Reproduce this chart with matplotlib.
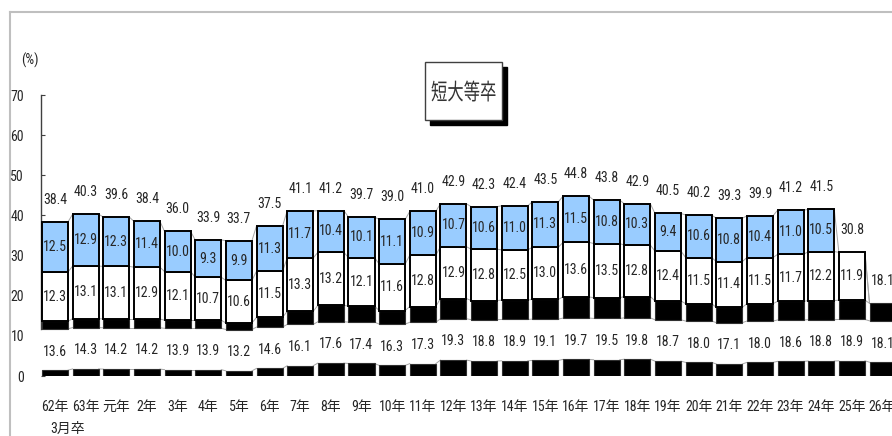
import matplotlib
matplotlib.use("Agg")
import matplotlib.pyplot as plt
from matplotlib import font_manager
from matplotlib.font_manager import FontProperties
from matplotlib.patches import Rectangle, PathPatch
from matplotlib.lines import Line2D
from matplotlib.textpath import TextPath
from matplotlib.transforms import Affine2D, IdentityTransform
import numpy as np

# ---- data -------------------------------------------------------------
years = ["62年", "63年", "元年", "2年", "3年", "4年", "5年", "6年", "7年", "8年",
         "9年", "10年", "11年", "12年", "13年", "14年", "15年", "16年", "17年",
         "18年", "19年", "20年", "21年", "22年", "23年", "24年", "25年", "26年"]
first_year = [13.6, 14.3, 14.2, 14.2, 13.9, 13.9, 13.2, 14.6, 16.1, 17.6,
              17.4, 16.3, 17.3, 19.3, 18.8, 18.9, 19.1, 19.7, 19.5,
              19.8, 18.7, 18.0, 17.1, 18.0, 18.6, 18.8, 18.9, 18.1]
second_year = [12.3, 13.1, 13.1, 12.9, 12.1, 10.7, 10.6, 11.5, 13.3, 13.2,
               12.1, 11.6, 12.8, 12.9, 12.8, 12.5, 13.0, 13.6, 13.5,
               12.8, 12.4, 11.5, 11.4, 11.5, 11.7, 12.2, 11.9, None]
third_year = [12.5, 12.9, 12.3, 11.4, 10.0, 9.3, 9.9, 11.3, 11.7, 10.4,
              10.1, 11.1, 10.9, 10.7, 10.6, 11.0, 11.3, 11.5, 10.8,
              10.3, 9.4, 10.6, 10.8, 10.4, 11.0, 10.5, None, None]
totals = [38.4, 40.3, 39.6, 38.4, 36.0, 33.9, 33.7, 37.5, 41.1, 41.2,
          39.7, 39.0, 41.0, 42.9, 42.3, 42.4, 43.5, 44.8, 43.8,
          42.9, 40.5, 40.2, 39.3, 39.9, 41.2, 41.5, 30.8, 18.1]
y_ticks = [0, 10, 20, 30, 40, 50, 60, 70]
title = "短大等卒"

# ---- fonts: prefer a narrow Latin face, CJK from Noto -----------------
def narrow_face():
    entries = font_manager.fontManager.ttflist
    wanted = ["Liberation Sans Narrow", "Roboto Condensed", "Open Sans Condensed",
              "DejaVu Sans Condensed", "Noto Sans Condensed"]
    for name in wanted:
        for f in entries:
            if f.name == name and f.style == "normal" and f.weight in (400, "normal", "regular"):
                return f.name, "normal"
    for f in entries:
        if (f.stretch in ("condensed", "semi-condensed")
                and f.style == "normal" and f.weight in (400, "normal", "regular")
                and f.name in ("DejaVu Sans", "Noto Sans", "Roboto", "Open Sans",
                               "Liberation Sans", "Lato", "Inter")):
            return f.name, f.stretch
    return "Liberation Sans", "normal"

num_family, num_stretch = narrow_face()
plt.rcParams["font.family"] = [num_family, "Noto Sans CJK JP", "DejaVu Sans"]
plt.rcParams["font.stretch"] = num_stretch

TXT = "#262626"
BLUE = "#99CCFF"
FS = 10 if num_stretch != "normal" or "Narrow" in num_family or "Condensed" in num_family else 9.5

# ---- geometry (pixels) -------------------------------------------------
W, H = 892, 436
fig = plt.figure(figsize=(W / 100, H / 100), dpi=100)
axis_x = 40.7
zero_y, top_y = 376, 95
pitch, first_center = 30.65, 55.0
ax = fig.add_axes([axis_x / W, (H - zero_y) / H, 1 - axis_x / W, (zero_y - top_y) / H])
ax.set_xlim(-(first_center - axis_x) / pitch, (W - first_center) / pitch)
ax.set_ylim(0, 70)

n = len(years)
x = np.arange(n)
width = 0.85

v1 = np.array(first_year, dtype=float)
v2 = np.array([np.nan if v is None else v for v in second_year])
v3 = np.array([np.nan if v is None else v for v in third_year])
v2z = np.nan_to_num(v2)
v3z = np.nan_to_num(v3)

# the first-year bar is drawn with a broken middle: a black foot, a blank
# band carrying the value, and a black cap up to the true value
GAP = 10.3
LOWER_SHARE = 0.44
foot = LOWER_SHARE * (v1 - GAP)
cap_start = foot + GAP

ax.bar(x, foot, width, color="black", edgecolor="#303030", lw=0.8, zorder=3)
ax.bar(x, v1 - cap_start, width, bottom=cap_start, color="black",
       edgecolor="#303030", lw=0.8, zorder=3)

m2 = ~np.isnan(v2)
ax.bar(x[m2], v2[m2], width, bottom=v1[m2], color="white",
       edgecolor="black", lw=1.4, zorder=3)
m3 = ~np.isnan(v3)
ax.bar(x[m3], v3[m3], width, bottom=(v1 + v2z)[m3], color=BLUE,
       edgecolor="black", lw=1.4, zorder=3)

# series lines between neighbouring bars
levels = np.vstack([foot, cap_start, v1, v1 + v2z, v1 + v2z + v3z])
for i in range(n - 1):
    for lv in levels:
        ax.plot([x[i] + width / 2, x[i + 1] - width / 2], [lv[i], lv[i + 1]],
                color="#A6A6A6", lw=0.7, zorder=2)

# value labels
for i in range(n):
    ax.text(x[i], (foot[i] + cap_start[i]) / 2 - 0.5, f"{v1[i]:.1f}",
            ha="center", va="center", fontsize=FS, color=TXT, zorder=4)
    if m2[i]:
        ax.text(x[i], v1[i] + v2[i] / 2, f"{v2[i]:.1f}", ha="center",
                va="center", fontsize=FS, color=TXT, zorder=4)
    if m3[i]:
        ax.text(x[i], v1[i] + v2z[i] + v3[i] / 2, f"{v3[i]:.1f}", ha="center",
                va="center", fontsize=FS, color=TXT, zorder=4)
    top = v1[i] + v2z[i] + v3z[i]
    ax.text(x[i], top + 5.5, f"{totals[i]:.1f}", ha="center", va="center",
            fontsize=FS, color=TXT, zorder=4, clip_on=False)

# axes styling
for s in ("top", "right", "bottom"):
    ax.spines[s].set_visible(False)
ax.spines["left"].set_color("#404040")
ax.spines["left"].set_linewidth(1.0)
ax.spines["left"].set_bounds(cap_start[0], 70)
ax.set_yticks(y_ticks)
ax.set_yticklabels([str(t) for t in y_ticks])
ax.tick_params(axis="y", direction="in", length=3, width=0.8, color="#404040",
               pad=12, labelsize=FS, labelcolor=TXT)
for t in ax.yaxis.get_major_ticks():
    if foot[0] < t.get_loc() < cap_start[0]:
        t.tick1line.set_visible(False)
ax.set_xticks(x)
ax.set_xticklabels(years)
ax.tick_params(axis="x", length=0, pad=17, labelsize=FS, labelcolor=TXT)
ax.annotate("3月卒", xy=(0, 0), xycoords="data", xytext=(9, -38),
            textcoords="offset points", ha="center", va="center",
            fontsize=FS, color=TXT, annotation_clip=False)
ax.patch.set_visible(False)

# unit label
fig.text(30 / W, (H - 60) / H, "(%)", ha="center", va="center",
         fontsize=FS, color=TXT)

# outer frame
fig.add_artist(Line2D([10 / W, 1], [(H - 12) / H] * 2, color="#BFBFBF", lw=1.5))
fig.add_artist(Line2D([10 / W] * 2, [0, (H - 12) / H], color="#BFBFBF", lw=1.5))

# title box with drop shadow
bx, by, bw, bh = 425, 62, 77, 58
fig.add_artist(Rectangle(((bx + 5) / W, (H - by - bh - 5) / H), bw / W, bh / H,
                         transform=fig.transFigure, facecolor="black",
                         edgecolor="black", lw=1))
fig.add_artist(Rectangle((bx / W, (H - by - bh) / H), bw / W, bh / H,
                         transform=fig.transFigure, facecolor="white",
                         edgecolor="#404040", lw=1))

# title glyphs, drawn as a path so they can be set tall and narrow
tp = TextPath((0, 0), title, size=16, prop=FontProperties(family="Noto Sans CJK JP"))
ext = tp.get_extents()
tw, th = 64.0, 21.0
sx, sy = tw / ext.width, th / ext.height
cx, cy = bx + bw / 2, H - (by + bh / 2)
tr = (Affine2D().translate(-ext.x0 - ext.width / 2, -ext.y0 - ext.height / 2)
      .scale(sx, sy).translate(cx, cy))
fig.add_artist(PathPatch(tr.transform_path(tp), transform=IdentityTransform(),
                         facecolor="#333333", edgecolor="none"))

fig.savefig("out.png", dpi=100)
